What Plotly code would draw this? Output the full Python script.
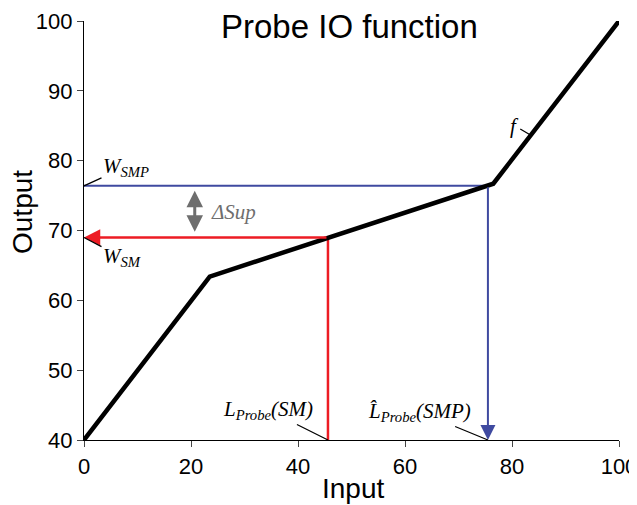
import plotly.graph_objects as go

# Data
input_vals = [0, 23.5, 76.5, 100]
output_vals = [40, 63.4, 76.7, 100]

sm_input = 45.6      # L_Probe(SM)
sm_output = 69.0     # W_SM
smp_input = 75.5     # L^_Probe(SMP)
smp_output = 76.4    # W_SMP
y_min = 40

x_ticks = [0, 20, 40, 60, 80, 100]
y_ticks = [40, 50, 60, 70, 80, 90, 100]

RED = "#ed1c24"
BLUE = "#3f4aa0"
GRAY = "#6e6e6e"
LBL_FONT = dict(family="Liberation Serif", size=21, color="black")

fig = go.Figure()

# blue horizontal line
fig.add_trace(go.Scatter(x=[0, smp_input], y=[smp_output, smp_output], mode="lines",
                         line=dict(color=BLUE, width=2), hoverinfo="skip"))
# red vertical line
fig.add_trace(go.Scatter(x=[sm_input, sm_input], y=[y_min, sm_output], mode="lines",
                         line=dict(color=RED, width=2.5), hoverinfo="skip"))
# IO function
fig.add_trace(go.Scatter(x=input_vals, y=output_vals, mode="lines",
                         line=dict(color="black", width=4.5), hoverinfo="skip"))

ann = []
# red arrow to the left
ann.append(dict(x=0, y=sm_output, ax=sm_input, ay=sm_output, xref="x", yref="y",
                axref="x", ayref="y", showarrow=True, arrowhead=2, arrowsize=1.3,
                arrowwidth=2.5, arrowcolor=RED, text=""))
# blue arrow downward
ann.append(dict(x=smp_input, y=y_min, ax=smp_input, ay=smp_output, xref="x", yref="y",
                axref="x", ayref="y", showarrow=True, arrowhead=2, arrowsize=1.5,
                arrowwidth=2, arrowcolor=BLUE, text=""))
# delta sup double arrow
ann.append(dict(x=20.7, y=75.7, ax=20.7, ay=69.6, xref="x", yref="y",
                axref="x", ayref="y", showarrow=True, arrowhead=2, startarrowhead=2,
                arrowside="end+start", arrowsize=1.1, startarrowsize=1.1,
                arrowwidth=3, arrowcolor=GRAY, text=""))
ann.append(dict(x=23.3, y=72.7, xref="x", yref="y", showarrow=False,
                text="<i>ΔSup</i>", xanchor="left", yanchor="middle",
                font=dict(family="Liberation Serif", size=21, color=GRAY)))

# labels with leader lines
ann.append(dict(x=0, y=smp_output, xref="x", yref="y", showarrow=True, arrowhead=0,
                arrowwidth=1.3, arrowcolor="black", ax=42, ay=-19,
                text="<i>W<sub>SMP</sub></i>", font=LBL_FONT))
ann.append(dict(x=0, y=sm_output, xref="x", yref="y", showarrow=True, arrowhead=0,
                arrowwidth=1.3, arrowcolor="black", ax=38, ay=20,
                text="<i>W<sub>SM</sub></i>", font=LBL_FONT))
ann.append(dict(x=sm_input, y=y_min, xref="x", yref="y", showarrow=True, arrowhead=0,
                arrowwidth=1.3, arrowcolor="black", ax=-60, ay=-30,
                text="<i>L<sub>Probe</sub>(SM)</i>", font=LBL_FONT))
ann.append(dict(x=smp_input, y=y_min, xref="x", yref="y", showarrow=True, arrowhead=0,
                arrowwidth=1.3, arrowcolor="black", ax=-68, ay=-28,
                text="<i>L\u0302<sub>Probe</sub>(SMP)</i>", font=LBL_FONT))
ann.append(dict(x=83.6, y=83.6, xref="x", yref="y", showarrow=True, arrowhead=0,
                arrowwidth=1.3, arrowcolor="black", ax=-17, ay=-10,
                text="<i>f</i>", font=LBL_FONT))

# titles
ann.append(dict(x=0.497, y=0.986, xref="paper", yref="paper", showarrow=False,
                xanchor="center", yanchor="middle",
                text="Probe IO function", font=dict(family="Liberation Sans", size=33, color="black")))
ann.append(dict(x=0.503, y=-0.115, xref="paper", yref="paper", showarrow=False,
                xanchor="center", yanchor="middle",
                text="Input", font=dict(family="Liberation Sans", size=28, color="black")))
ann.append(dict(x=-0.116, y=0.544, xref="paper", yref="paper", showarrow=False,
                xanchor="center", yanchor="middle",
                text="Output", textangle=-90,
                font=dict(family="Liberation Sans", size=28, color="black")))

# page body has an 8px margin, so the figure is 8px smaller than the window
fig.update_layout(
    width=629, height=497,
    margin=dict(l=76, r=18, t=13, b=65, autoexpand=False),
    paper_bgcolor="white", plot_bgcolor="white",
    showlegend=False,
    annotations=ann,
    font=dict(family="Liberation Sans", size=22, color="black"),
)
fig.update_xaxes(range=[0, 100], tickvals=x_ticks, ticks="outside", ticklen=6,
                 tickwidth=1.3, showline=True, linecolor="black", linewidth=1.3,
                 showgrid=False, zeroline=False, tickfont=dict(size=22),
                 automargin=False, ticklabeloverflow="allow")
fig.update_yaxes(range=[y_min, 100], tickvals=y_ticks, ticks="outside", ticklen=6,
                 tickwidth=1.3, showline=True, linecolor="black", linewidth=1.3,
                 showgrid=False, zeroline=False, tickfont=dict(size=22),
                 automargin=False, ticklabeloverflow="allow")

fig.write_html("out.html")
